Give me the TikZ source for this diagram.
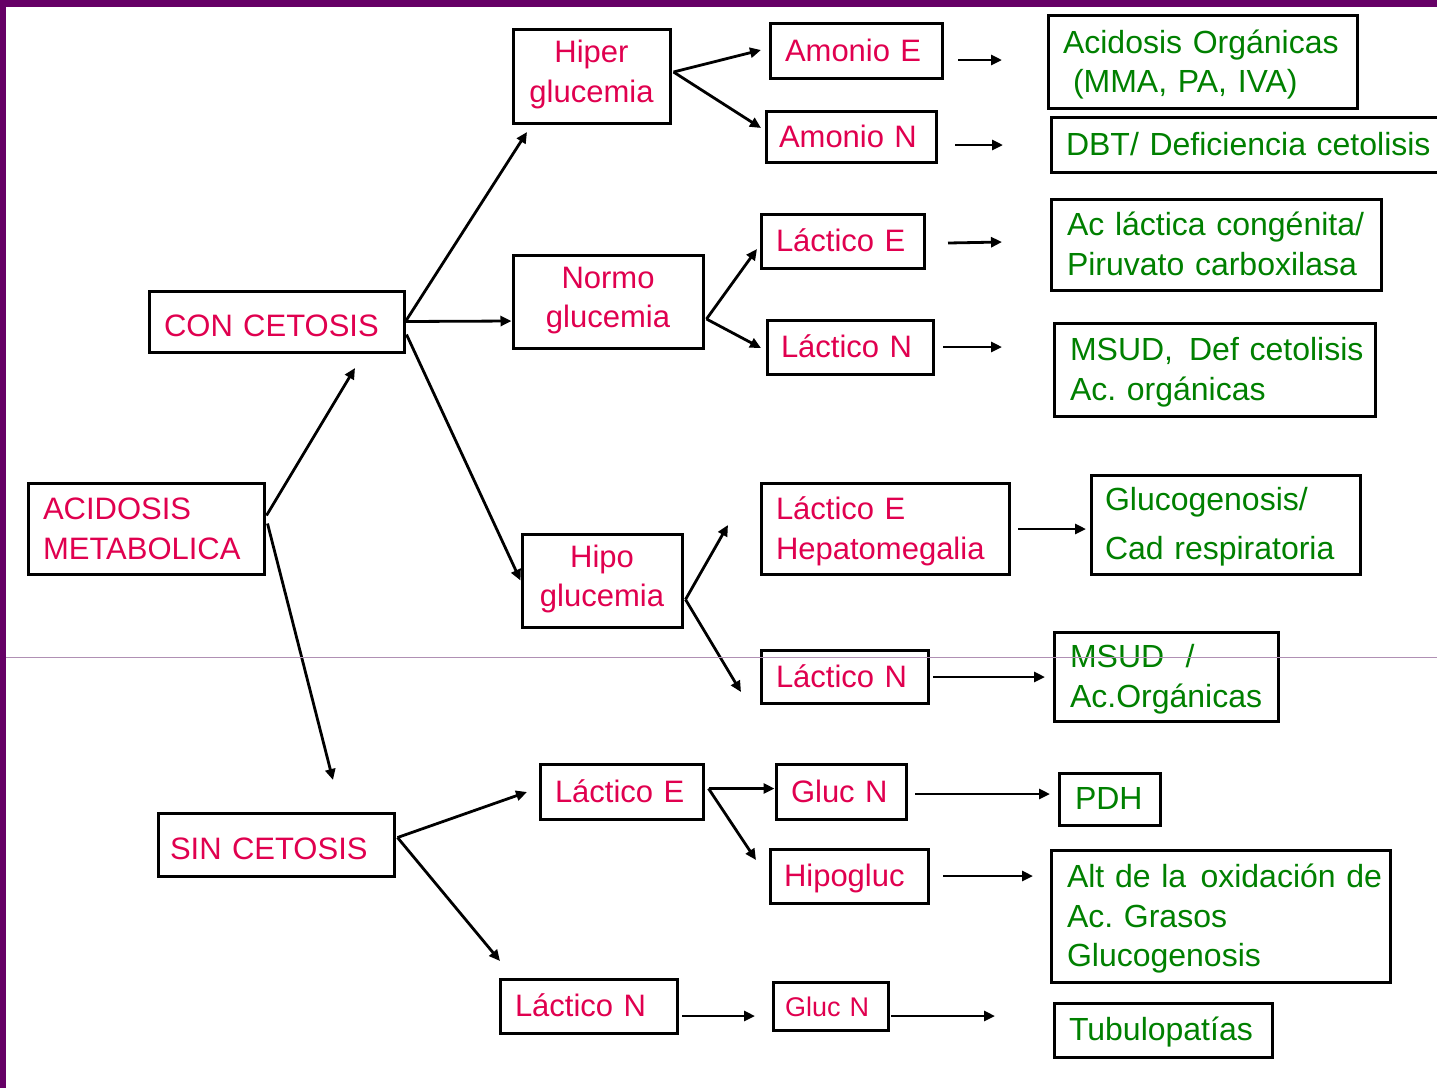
\documentclass[tikz,border=0pt]{standalone}
\usepackage{fontspec}
\setmainfont{Liberation Sans}
\usetikzlibrary{arrows.meta}
\definecolor{redtxt}{HTML}{E0004F}
\definecolor{greentxt}{HTML}{008000}
\definecolor{framecol}{HTML}{660066}
\definecolor{rulecol}{HTML}{B090B4}
\frenchspacing
% line strut used to place the text inside the boxes
\newcommand\boxstrut{\rule[-9pt]{0pt}{39.5pt}}
\newcommand\lowstrut{\rule[-9pt]{0pt}{47pt}}

\begin{document}
\begin{tikzpicture}[x=1pt,y=-1pt,
  box/.style={draw=black, line width=3pt, inner ysep=0pt,
    execute at begin node=\boxstrut, execute at end node=\boxstrut},
  lowtext/.style={execute at begin node=\lowstrut},
  redbox/.style={box, text=redtxt, font=\fontsize{31}{39.5}\selectfont},
  grnbox/.style={box, text=greentxt, font=\fontsize{32}{39.5}\selectfont},
  lbox/.style n args={3}{text width=#1, inner xsep=#2, minimum height=#3, align=left},
  cbox/.style 2 args={minimum width=#1, minimum height=#2, align=center},
  arr/.style={draw=black, line width=2.8pt, -{Triangle[length=11pt,width=10pt]}}
]
\useasboundingbox (0,0) rectangle (1437,1088);
\fill[white] (0,0) rectangle (1437,1088);
% purple frame on top and left
\fill[framecol] (0,0) rectangle (1437,7);
\fill[framecol] (0,0) rectangle (6,1088);

% ---- first level
\node[redbox, lbox={206pt}{15pt}{91pt}] (acid) at (146,528.5) {ACIDOSIS\\METABOLICA};
\node[redbox, lowtext, lbox={225pt}{15pt}{61pt}] (con) at (276.5,321.5) {\mbox{CON CETOSIS}};
\node[redbox, lowtext, lbox={212pt}{12pt}{63pt}] (sin) at (276,844.5) {\mbox{SIN CETOSIS}};

% ---- glucemia
\node[redbox, cbox={157pt}{94pt}] (hiper) at (591.5,76) {Hiper\\glucemia};
\node[redbox, cbox={190pt}{93pt}] (normo) at (608,302) {Normo\\glucemia};
\node[redbox, cbox={160pt}{93pt}] (hipo) at (602,580.5) {Hipo\\glucemia};

% ---- amonio / lactico
\node[redbox, lbox={142pt}{15pt}{55pt}] (amE) at (856,50.5) {\mbox{Amonio E}};
\node[redbox, lbox={144pt}{13pt}{51pt}] (amN) at (851,136.5) {\mbox{Amonio N}};
\node[redbox, lbox={133pt}{15pt}{54pt}] (lacEa) at (842.5,241) {\mbox{Láctico E}};
\node[redbox, lbox={138pt}{14pt}{54pt}] (lacNa) at (850,347) {\mbox{Láctico N}};
\node[redbox, lbox={218pt}{15pt}{91pt}] (lacEH) at (885,528.5) {\mbox{Láctico E}\\Hepatomegalia};
\node[redbox, lbox={137pt}{15pt}{53pt}] (lacNb) at (844.5,676.5) {\mbox{Láctico N}};
\node[redbox, lbox={133pt}{15pt}{55pt}] (lacEc) at (621.5,791.5) {\mbox{Láctico E}};
\node[redbox, lbox={147pt}{15pt}{54pt}] (lacNc) at (588.5,1006) {\mbox{Láctico N}};
\node[redbox, lbox={100pt}{15pt}{55pt}] (glucNa) at (841,791.5) {\mbox{Gluc N}};
\node[redbox, lbox={130pt}{14pt}{54pt}] (hipog) at (849,876) {Hipogluc};
\node[redbox, lbox={91pt}{12pt}{48pt}, font=\fontsize{27}{34}\selectfont] (glucNb) at (830.5,1006) {\mbox{Gluc N}};

% ---- diagnoses
\node[grnbox, lbox={279pt}{15pt}{93pt}] (r1) at (1202.5,62) {\mbox{Acidosis Orgánicas}\\\hspace*{10pt}\mbox{(MMA, PA, IVA)}};
\node[grnbox, lbox={370pt}{15pt}{55pt}] (r2) at (1251,144.5) {\mbox{DBT/ Deficiencia cetolisis}};
\node[grnbox, lbox={298pt}{16pt}{91pt}] (r3) at (1216,244.5) {\mbox{Ac láctica congénita/}\\\mbox{Piruvato carboxilasa}};
\node[grnbox, lbox={289pt}{16pt}{93pt}] (r4) at (1214.5,369.5) {\mbox{MSUD,\hspace{0.5em}Def cetolisis}\\\mbox{Ac. orgánicas}};
\node[grnbox, lbox={241pt}{14pt}{99pt}] (r5) at (1225.5,524.5) {Glucogenosis/\\[9.5pt]\mbox{Cad respiratoria}};
\node[grnbox, lbox={192pt}{16pt}{89pt}] (r6) at (1166,676.5) {\mbox{MSUD\ \ /}\\Ac.Orgánicas};
\node[grnbox, lbox={69pt}{16pt}{52pt}] (r7) at (1109.5,799) {PDH};
\node[grnbox, lbox={307pt}{16pt}{132pt}] (r8) at (1220.5,916.5) {\mbox{Alt de la\hspace{0.45em}oxidación de}\\\mbox{Ac. Grasos}\\Glucogenosis};
\node[grnbox, lbox={188pt}{15pt}{54pt}] (r9) at (1163,1030) {Tubulopatías};

% ---- free arrow ends
\coordinate (e1) at (355,368);
\coordinate (e2) at (333,780);
\coordinate (e3) at (527,132);
\coordinate (e4) at (761,50);
\coordinate (e5) at (761,128);
\coordinate (e6) at (757,249);
\coordinate (e7) at (761,348);
\coordinate (e8) at (728,525);
\coordinate (e9) at (741,692);
\coordinate (e10) at (527,792);
\coordinate (e11) at (500,961);
\coordinate (e12) at (756,860);

% ---- branching arrows
\draw[arr] ([xshift=1pt,yshift=13pt]acid.east) -- (e1);
\draw[arr] ([xshift=2pt,yshift=5pt]acid.east) -- (e2);
\draw[arr] (con.east) -- (e3);
\draw[arr] (con.east) -- ([yshift=-19pt]normo.west);
\draw[arr] ([xshift=1pt,yshift=-13pt]con.east) -- (hipo.west);
\draw[arr] ([xshift=2pt,yshift=4pt]hiper.east) -- (e4);
\draw[arr] ([xshift=2pt,yshift=4pt]hiper.east) -- (e5);
\draw[arr] ([xshift=2pt,yshift=-17pt]normo.east) -- (e6);
\draw[arr] ([xshift=2pt,yshift=-17pt]normo.east) -- (e7);
\draw[arr] ([xshift=2pt,yshift=-19pt]hipo.east) -- (e8);
\draw[arr] ([xshift=2pt,yshift=-19pt]hipo.east) -- (e9);
\draw[arr] ([xshift=2pt,yshift=7pt]sin.east) -- (e10);
\draw[arr] ([xshift=2pt,yshift=7pt]sin.east) -- (e11);
\draw[arr] ([xshift=4pt,yshift=3pt]lacEc.east) -- ([yshift=3pt]glucNa.west);
\draw[arr] ([xshift=4pt,yshift=3pt]lacEc.east) -- (e12);

% ---- short arrows towards the diagnoses
\coordinate (s1a) at (958,60);   \coordinate (s1b) at (1002,60);
\coordinate (s2a) at (955,145);  \coordinate (s2b) at (1003,145);
\coordinate (s3a) at (948,243);  \coordinate (s3b) at (1002,242);
\coordinate (s4a) at (943,347);  \coordinate (s4b) at (1002,347);
\coordinate (s5a) at (1018,529); \coordinate (s5b) at (1086,529);
\coordinate (s6a) at (933,677);  \coordinate (s6b) at (1045,677);
\coordinate (s7a) at (915,794);  \coordinate (s7b) at (1050,794);
\coordinate (s8a) at (943,876);  \coordinate (s8b) at (1033,876);
\coordinate (s9a) at (682,1016); \coordinate (s9b) at (755,1016);
\coordinate (s10a) at (891,1016); \coordinate (s10b) at (995,1016);
\foreach \i in {1,...,10} {\draw[arr] (s\i a) -- (s\i b);}

% thin separator line
\draw[rulecol, line width=1pt] (6,657) -- (1437,657);
\end{tikzpicture}
\end{document}
